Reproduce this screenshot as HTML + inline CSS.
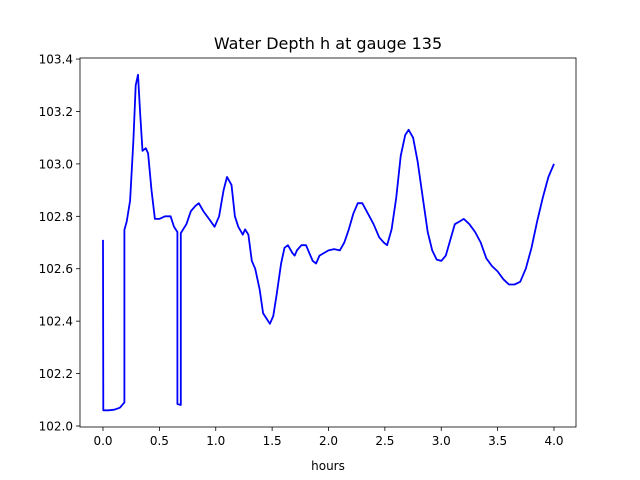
<!DOCTYPE html>
<html><head><meta charset="utf-8"><style>
html,body{margin:0;padding:0;background:#fff;}
svg{display:block;font-family:"DejaVu Sans","Liberation Sans",sans-serif;}
</style></head><body>
<svg id="chart" width="640" height="480">
<rect width="640" height="480" fill="#fff"/>
<text x="328" y="49" text-anchor="middle" font-size="16">Water Depth h at gauge 135</text>
<g id="axes"></g>
<text x="328" y="470" text-anchor="middle" font-size="12">hours</text>
</svg>
<script>
const xTicks=[0.0,0.5,1.0,1.5,2.0,2.5,3.0,3.5,4.0];
const xTickLabels=["0.0","0.5","1.0","1.5","2.0","2.5","3.0","3.5","4.0"];
const yTicks=[102.0,102.2,102.4,102.6,102.8,103.0,103.2,103.4];
const yTickLabels=["102.0","102.2","102.4","102.6","102.8","103.0","103.2","103.4"];
const hours=[0,0.003,0.05,0.1,0.15,0.19,0.19,0.21,0.24,0.27,0.29,0.31,0.33,0.35,0.38,0.40,0.43,0.46,0.5,0.55,0.6,0.63,0.66,0.66,0.69,0.69,0.74,0.78,0.82,0.85,0.89,0.94,0.99,1.03,1.07,1.1,1.14,1.17,1.2,1.24,1.26,1.29,1.32,1.35,1.39,1.42,1.45,1.48,1.51,1.54,1.58,1.61,1.64,1.68,1.7,1.72,1.76,1.8,1.83,1.86,1.89,1.92,1.96,2.0,2.05,2.1,2.14,2.18,2.22,2.26,2.3,2.35,2.4,2.45,2.49,2.52,2.56,2.6,2.64,2.68,2.71,2.75,2.79,2.84,2.88,2.92,2.96,3.0,3.04,3.08,3.12,3.16,3.2,3.25,3.3,3.35,3.4,3.45,3.5,3.55,3.6,3.65,3.7,3.75,3.8,3.85,3.9,3.95,4.0];
const depth=[102.71,102.06,102.06,102.062,102.07,102.09,102.748,102.78,102.86,103.09,103.3,103.34,103.19,103.05,103.06,103.04,102.9,102.79,102.79,102.8,102.8,102.76,102.74,102.084,102.08,102.736,102.77,102.82,102.84,102.85,102.82,102.79,102.76,102.8,102.9,102.95,102.92,102.8,102.76,102.73,102.75,102.73,102.63,102.6,102.52,102.43,102.41,102.39,102.42,102.5,102.62,102.68,102.69,102.66,102.65,102.67,102.69,102.69,102.66,102.63,102.62,102.65,102.66,102.67,102.675,102.67,102.7,102.75,102.81,102.85,102.85,102.81,102.77,102.72,102.7,102.69,102.75,102.87,103.03,103.11,103.13,103.1,103.01,102.86,102.74,102.67,102.635,102.63,102.65,102.71,102.77,102.78,102.79,102.77,102.74,102.7,102.64,102.61,102.59,102.56,102.54,102.54,102.55,102.6,102.68,102.78,102.87,102.95,103.0];
const L=80,R=576,T=58,B=427;
const X=v=>103+(v-0)*112.75;
const Y=v=>426-(v-102.0)*262.1;
const NS="http://www.w3.org/2000/svg";
const g=document.getElementById('axes');
function mk(tag,attrs){const e=document.createElementNS(NS,tag);for(const k in attrs)e.setAttribute(k,attrs[k]);g.appendChild(e);return e;}
xTicks.forEach((t,i)=>{
 const l=mk('line',{x1:X(t),x2:X(t),y1:B,y2:B+4,stroke:'#000','stroke-width':0.8});
 
 
 const tx=mk('text',{x:X(t),y:B+18,'text-anchor':'middle','font-size':12});
 tx.textContent=xTickLabels[i];
 
 
});
yTicks.forEach((t,i)=>{
 const l=mk('line',{x1:L-4,x2:L,y1:Y(t),y2:Y(t),stroke:'#000','stroke-width':0.8});
 
 
 const tx=mk('text',{x:L-7,y:Y(t)+4.5,'text-anchor':'end','font-size':12});
 tx.textContent=yTickLabels[i];
 
 
});
const d=hours.map((h,i)=>(i?'L':'M')+X(h).toFixed(1)+','+Y(depth[i]).toFixed(1)).join('');
const p=mk('path',{d:d,fill:'none',stroke:'#0000ff','stroke-width':1.8,'stroke-linejoin':'round'});


const f=mk('rect',{x:L,y:T,width:R-L,height:B-T,fill:'none',stroke:'#000','stroke-width':0.8});


</script>
</body></html>
